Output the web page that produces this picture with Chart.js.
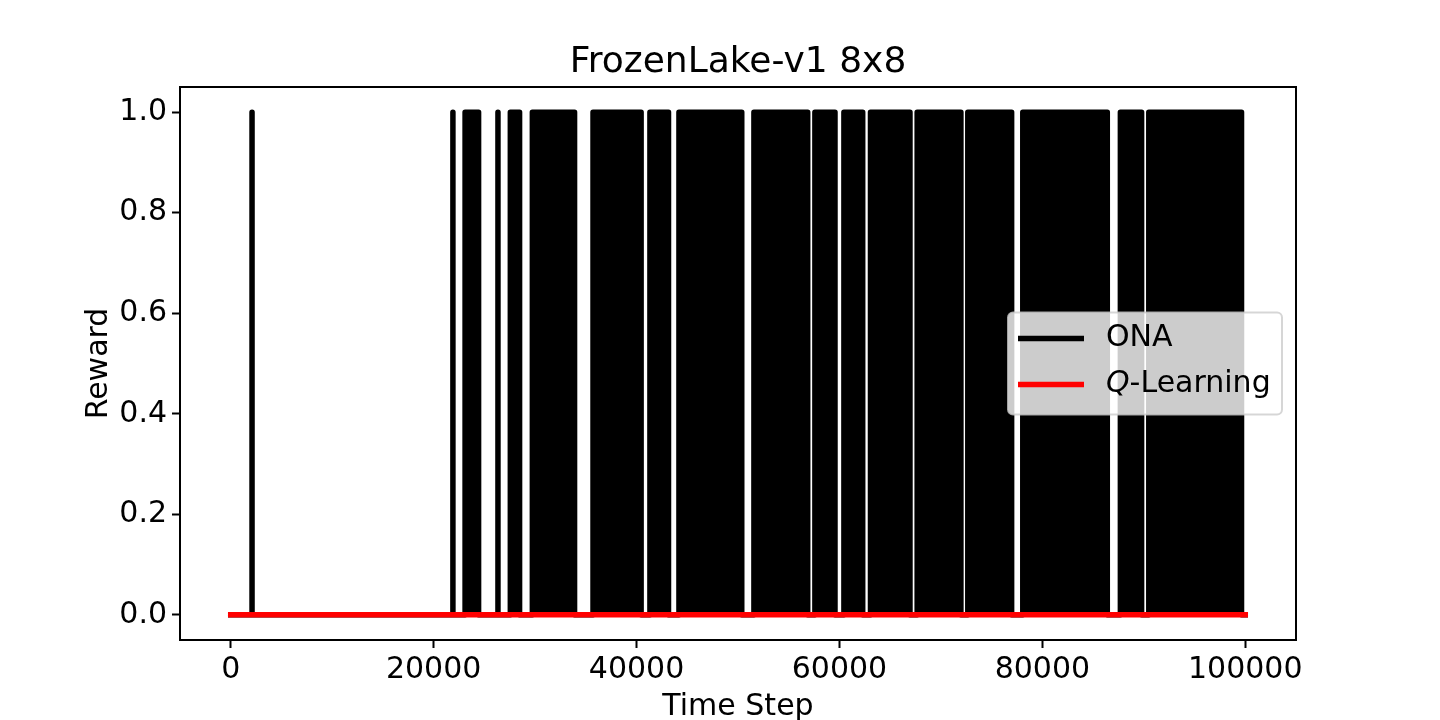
<!DOCTYPE html>
<html>
<head>
<meta charset="utf-8">
<title>FrozenLake-v1 8x8</title>
<script src="https://cdn.jsdelivr.net/npm/chart.js@4/dist/chart.umd.min.js"></script>
<style>
  html, body { margin: 0; padding: 0; background: #fff; }
  canvas { display: block; }
</style>
</head>
<body>
<canvas id="rewardChart" width="1440" height="720"></canvas>
<script>
// ONA: time steps where reward jumps to 1 and where it falls back to 0
const onaStart = [2100, 21900, 23100, 26340, 27560, 29730, 35710, 41320, 44180, 51570, 57580, 60440, 63060, 67660, 72650, 78070, 87690, 90490];
const onaEnd   = [2100, 21900, 24430, 26340, 28470, 33890, 40450, 43150, 50370, 56870, 59560, 62290, 66950, 71970, 76970, 86400, 89780, 99630];
const onaHigh = 1;

// Q-Learning never gets a reward
const qSteps = [0, 100000];
const qRewards = [0, 0];

const lastStep = 100000;
const xTicks = [0, 20000, 40000, 60000, 80000, 100000];
const yTicks = [0, 0.2, 0.4, 0.6, 0.8, 1.0];

const fontFamily = "'DejaVu Sans', 'Liberation Sans', sans-serif";

// turn the reward blocks into a step line
const onaPoints = [{ x: 0, y: 0 }];
for (let i = 0; i < onaStart.length; i++) {
    onaPoints.push({ x: onaStart[i], y: 0 });
    onaPoints.push({ x: onaStart[i], y: onaHigh });
    onaPoints.push({ x: onaEnd[i], y: onaHigh });
    onaPoints.push({ x: onaEnd[i], y: 0 });
}
onaPoints.push({ x: lastStep, y: 0 });

const qPoints = qSteps.map((s, i) => ({ x: s, y: qRewards[i] }));

// axes frame + matplotlib style legend inside the plot
const frameAndLegend = {
    id: 'frameAndLegend',
    afterDatasetsDraw(chart) {
        const ctx = chart.ctx;
        const a = chart.chartArea;
        ctx.save();

        ctx.strokeStyle = '#000';
        ctx.lineWidth = 2;
        ctx.strokeRect(a.left, a.top, a.right - a.left, a.bottom - a.top);

        const bw = 274, bh = 102;
        const bx = a.right - 14 - bw;
        const by = (a.top + a.bottom) / 2 - bh / 2;
        ctx.beginPath();
        ctx.roundRect(bx, by, bw, bh, 5);
        ctx.fillStyle = 'rgba(255,255,255,0.8)';
        ctx.fill();
        ctx.strokeStyle = 'rgba(204,204,204,0.8)';
        ctx.lineWidth = 2;
        ctx.stroke();

        const order = [0, 1];
        order.forEach((idx, row) => {
            const ds = chart.data.datasets[idx];
            const y = by + 26 + row * 46;
            ctx.beginPath();
            ctx.moveTo(bx + 10, y);
            ctx.lineTo(bx + 76, y);
            ctx.strokeStyle = ds.borderColor;
            ctx.lineWidth = 5.5;
            ctx.lineCap = 'butt';
            ctx.stroke();

            ctx.fillStyle = '#000';
            ctx.textBaseline = 'middle';
            ctx.textAlign = 'left';
            let tx = bx + 98;
            let label = ds.label;
            if (label.startsWith('Q-')) {
                ctx.font = 'italic 30px ' + fontFamily;
                ctx.fillText('Q', tx, y);
                tx += ctx.measureText('Q').width;
                label = label.slice(1);
            }
            ctx.font = '30px ' + fontFamily;
            ctx.fillText(label, tx, y);
        });

        ctx.restore();
    }
};

new Chart(document.getElementById('rewardChart'), {
    type: 'line',
    data: {
        datasets: [
            {
                label: 'ONA',
                data: onaPoints,
                borderColor: '#000000',
                backgroundColor: '#000000',
                fill: 'origin',
                borderWidth: 5.5,
                borderJoinStyle: 'round',
                borderCapStyle: 'square',
                pointRadius: 0,
                tension: 0,
                order: 1
            },
            {
                label: 'Q-Learning',
                data: qPoints,
                borderColor: '#ff0000',
                fill: false,
                borderWidth: 5.5,
                borderCapStyle: 'square',
                pointRadius: 0,
                tension: 0,
                order: 0
            }
        ]
    },
    options: {
        responsive: false,
        animation: false,
        devicePixelRatio: 1,
        layout: { padding: { left: 0, right: 144, top: 0, bottom: 0 } },
        plugins: {
            legend: { display: false },
            tooltip: { enabled: false },
            title: {
                display: true,
                fullSize: false,
                text: 'FrozenLake-v1 8x8',
                color: '#000',
                font: { family: fontFamily, size: 36, weight: 'normal' },
                padding: { top: 41, bottom: 2.8 }
            }
        },
        scales: {
            x: {
                type: 'linear',
                min: -5000,
                max: 105000,
                afterBuildTicks: s => { s.ticks = xTicks.map(v => ({ value: v })); },
                afterFit: s => { s.height = 80; },
                ticks: {
                    callback: v => String(v),
                    color: '#000',
                    font: { family: fontFamily, size: 30 },
                    padding: 4,
                    maxRotation: 0,
                    autoSkip: false
                },
                grid: { display: true, drawOnChartArea: false, drawTicks: true, tickLength: 8, tickColor: '#000', tickWidth: 2 },
                border: { display: false },
                title: {
                    display: true,
                    text: 'Time Step',
                    color: '#000',
                    font: { family: fontFamily, size: 30 },
                    padding: { top: 0, bottom: -5 }
                }
            },
            y: {
                type: 'linear',
                min: -0.05,
                max: 1.05,
                afterBuildTicks: s => { s.ticks = yTicks.map(v => ({ value: v })); },
                afterFit: s => { s.width = 180; },
                ticks: {
                    callback: v => v.toFixed(1),
                    color: '#000',
                    font: { family: fontFamily, size: 30 },
                    padding: 5,
                    autoSkip: false
                },
                grid: { display: true, drawOnChartArea: false, drawTicks: true, tickLength: 8, tickColor: '#000', tickWidth: 2 },
                border: { display: false },
                title: {
                    display: true,
                    text: 'Reward',
                    color: '#000',
                    font: { family: fontFamily, size: 30 },
                    padding: { top: 81, bottom: 0 }
                }
            }
        }
    },
    plugins: [frameAndLegend]
});
</script>
</body>
</html>
